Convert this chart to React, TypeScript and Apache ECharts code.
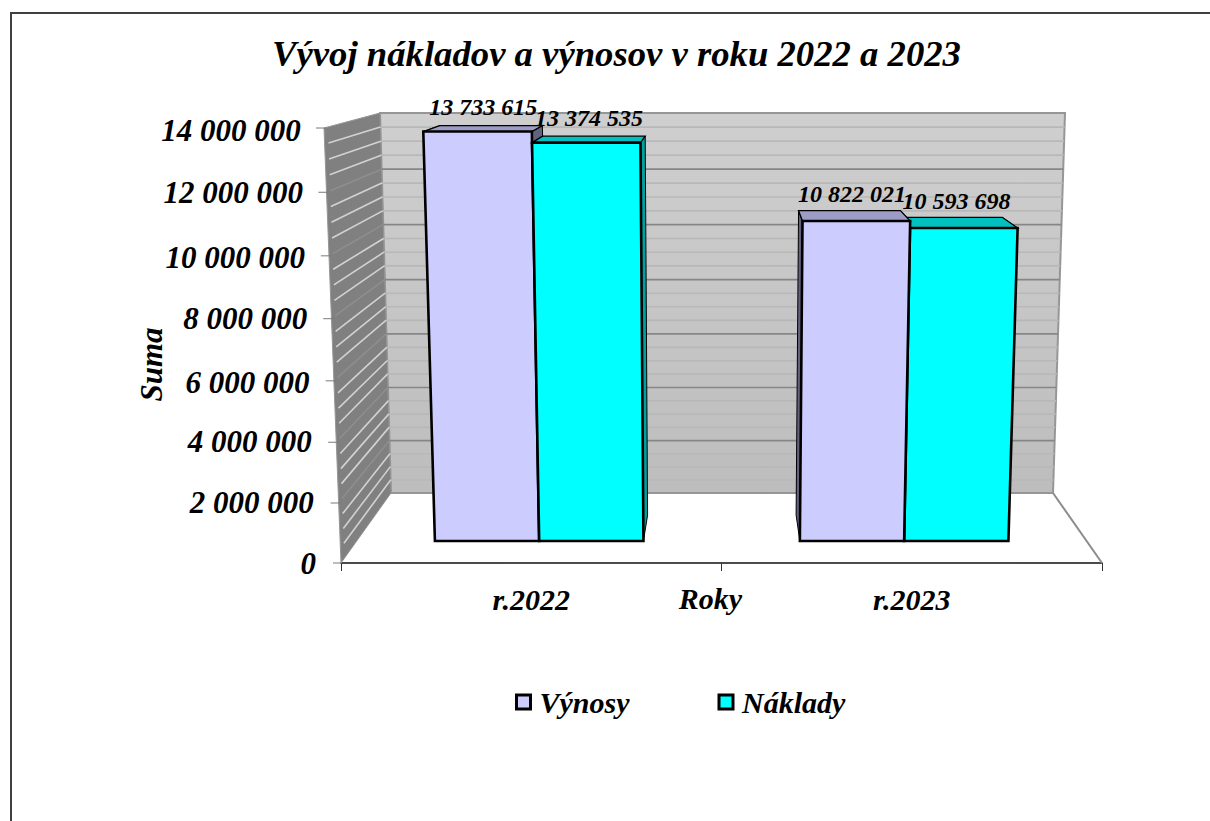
import React, { useEffect, useRef } from "react";
import * as echarts from "echarts";

const categories = ["r.2022", "r.2023"];
const vynosy = [13733615, 10822021];
const naklady = [13374535, 10593698];
const yTicks = [0, 2000000, 4000000, 6000000, 8000000, 10000000, 12000000, 14000000];
const yTickLabels = ["0", "2 000 000", "4 000 000", "6 000 000", "8 000 000", "10 000 000", "12 000 000", "14 000 000"];
const barLabels = [["13 733 615", "10 822 021"], ["13 374 535", "10 593 698"]];
const minorPerMajor = 4;

const FONT = '"Liberation Serif"';
const Y_MAX = 14000000;
// plane geometry of the 3D box: front plane is the ECharts grid; the back wall is a smaller plane behind it
const G = { left: 341, right: 1102, top: 128, bottom: 563 };
const BOX = { frontTopL: 324, frontTopR: 1119, backL: 391, backR: 1053, backTopL: 380, backTopR: 1065, backBottom: 493, backTop: 113 };
const CURVE = 0.04;
const lerp = (a: number, b: number, f: number) => a + (b - a) * f;
const bend = (t: number) => t - CURVE * t * (1 - t);
const project = (u: number, t: number, d: number): number[] => {
  const tb = bend(t);
  const l = lerp(lerp(G.left, BOX.frontTopL, t), lerp(BOX.backL, BOX.backTopL, t), d);
  const r = lerp(lerp(G.right, BOX.frontTopR, t), lerp(BOX.backR, BOX.backTopR, t), d);
  const y = lerp(lerp(G.bottom, G.top, tb), lerp(BOX.backBottom, BOX.backTop, tb), d);
  return [lerp(l, r, u), y];
};
const BAR_D0 = 0.314;
const BAR_D1 = 0.686;
const BAR_RATIO = 2 / 7;
const LABEL_NUDGE = [0, 0, -1, 2, 0, 2, 0, 2];

const COLORS = [
  { front: "#ccccff", top: "#9c9cc6", side: "#62627f" },
  { front: "#00ffff", top: "#00c0c0", side: "#00a0a0" },
];

const boxRender = (seriesIdx: number) => (params: any, api: any) => {
  const cat = api.value(0);
  const val = api.value(1);
  const center = api.coord([cat, 0])[0];
  const band = api.size([1, 0])[0];
  const topPx = api.coord([cat, val])[1];
  const w = band * BAR_RATIO;
  const x0 = seriesIdx === 0 ? center - w : center;
  const x1 = x0 + w;
  const u0 = (x0 - G.left) / (G.right - G.left);
  const u1 = (x1 - G.left) / (G.right - G.left);
  const t = (G.bottom - topPx) / (G.bottom - G.top);
  const c = COLORS[seriesIdx];
  const base = (cat === 0 ? seriesIdx === 0 : seriesIdx === 1) ? 10 : 20;
  const poly = (pts: number[][], fill: string, lw: number, z2: number) => ({
    type: "polygon",
    silent: true,
    z2,
    shape: { points: pts },
    style: { fill, stroke: "#000", lineWidth: lw, lineJoin: "miter" },
  });
  const labelPos = project((u0 + u1) / 2, t, 0.5);
  return {
    type: "group",
    children: [
      poly([project(u1, 0, BAR_D0), project(u1, t, BAR_D0), project(u1, t, BAR_D1), project(u1, 0, BAR_D1)], c.side, 1, base),
      poly([project(u0, 0, BAR_D0), project(u0, t, BAR_D0), project(u0, t, BAR_D1), project(u0, 0, BAR_D1)], c.side, 1, base),
      poly([project(u0, t, BAR_D0), project(u1, t, BAR_D0), project(u1, t, BAR_D1), project(u0, t, BAR_D1)], c.top, 1.3, base + 1),
      poly([project(u0, 0, BAR_D0), project(u1, 0, BAR_D0), project(u1, t, BAR_D0), project(u0, t, BAR_D0)], c.front, 2.6, base + 2),
      {
        type: "text",
        silent: true,
        z2: 40,
        x: labelPos[0] - 1,
        y: labelPos[1] - 21.5,
        style: {
          text: barLabels[seriesIdx][cat],
          font: `italic bold 24px ${FONT}`,
          fill: "#000",
          align: "center",
          verticalAlign: "middle",
        },
      },
    ],
  };
};

const wallRender = (params: any, api: any) => {
  const val = api.value(0);
  const t = val / Y_MAX;
  const isMajor = params.dataIndex % minorPerMajor === 0;
  const children: any[] = [];
  if (params.dataIndex === 0) {
    children.push({
      type: "polygon",
      silent: true,
      z2: 0,
      shape: { points: [project(0, 0, 1), project(1, 0, 1), project(1, 1, 1), project(0, 1, 1)] },
      style: {
        fill: new echarts.graphic.LinearGradient(0, 0, 0, 1, [
          { offset: 0, color: "#cfcfcf" },
          { offset: 1, color: "#bdbdbd" },
        ]),
        stroke: "#969696",
        lineWidth: 2,
      },
    });
    children.push({
      type: "polygon",
      silent: true,
      z2: 0,
      shape: { points: [project(0, 0, 0), project(0, 1, 0), project(0, 1, 1), project(0, 0, 1)] },
      style: { fill: "#808080", stroke: "#969696", lineWidth: 1 },
    });
    children.push({
      type: "line",
      silent: true,
      z2: 1,
      shape: { x1: project(1, 0, 1)[0], y1: project(1, 0, 1)[1], x2: project(1, 0, 0)[0], y2: project(1, 0, 0)[1] },
      style: { stroke: "#8c8c8c", lineWidth: 2 },
    });
  }
  const line = (a: number[], b: number[], stroke: string, lw: number, z2: number) => ({
    type: "line",
    silent: true,
    z2,
    shape: { x1: a[0], y1: a[1], x2: b[0], y2: b[1] },
    style: { stroke, lineWidth: lw },
  });
  if (val > 0 && val < Y_MAX) {
    children.push(line(project(0, t, 1), project(1, t, 1), isMajor ? "#868686" : "#b8b8b8", 1.6, 2));
    children.push(line(project(0, t, 0.07), project(0, t, 1), isMajor ? "#8e8e8e" : "#d2d2d2", 1.6, 2));
  }
  if (isMajor) {
    const p = project(0, t, 0);
    children.push(line([p[0] - 8, p[1]], [p[0] + (val > 0 ? 3 : 0), p[1]], "#7a7a7a", 1, 3));
  }
  return { type: "group", children };
};

const gridValues: number[] = [];
for (let i = 0; i <= (yTicks.length - 1) * minorPerMajor; i++) gridValues.push((i * yTicks[1]) / minorPerMajor);

const tickRich: Record<string, any> = {};
yTicks.forEach((v, i) => {
  const t = v / Y_MAX;
  const p = project(0, t, 0);
  const dy = p[1] - lerp(G.bottom, G.top, t) + LABEL_NUDGE[i];
  tickRich["t" + i] = {
    fontFamily: FONT,
    fontStyle: "italic",
    fontWeight: "bold",
    fontSize: 31,
    color: "#000",
    padding: [Math.max(0, dy * 2), (G.left - p[0]) * 0.9, Math.max(0, -dy * 2), 0],
  };
});

export default function App() {
  const ref = useRef<HTMLDivElement>(null);
  useEffect(() => {
    document.body.style.margin = "0";
    const chart = echarts.init(ref.current!, null, { renderer: "svg" });
    const axisText = { fontFamily: FONT, fontStyle: "italic" as const, fontWeight: "bold" as const, fontSize: 30, color: "#000" };
    chart.setOption({
      animation: false,
      backgroundColor: "#fff",
      title: {
        text: "Vývoj nákladov a výnosov v roku 2022 a 2023",
        left: 611.5,
        top: 30,
        textAlign: "center",
        textStyle: { fontFamily: FONT, fontStyle: "italic", fontWeight: "bold", fontSize: 36.7, color: "#000" },
      },
      graphic: [
        {
          type: "rect",
          left: 10,
          top: 12,
          silent: true,
          z: -1,
          shape: { width: 1400, height: 1000 },
          style: { fill: "transparent", stroke: "#404040", lineWidth: 2 },
        },
      ],
      grid: { left: G.left, right: 1210 - G.right, top: G.top, bottom: 821 - G.bottom },
      xAxis: {
        type: "category",
        data: categories,
        name: "Roky",
        nameLocation: "middle",
        nameGap: 20,
        nameMoveOverlap: false,
        nameTextStyle: { ...axisText, padding: [0, 22, 0, 0] },
        axisLine: { lineStyle: { color: "#111", width: 1.5 } },
        axisTick: { show: true, length: 8, lineStyle: { color: "#333", width: 1 } },
        axisLabel: { ...axisText, margin: 21 },
      },
      yAxis: {
        type: "value",
        min: 0,
        max: Y_MAX,
        interval: yTicks[1],
        name: "Suma",
        nameLocation: "middle",
        nameRotate: 90,
        nameGap: 174,
        nameMoveOverlap: false,
        nameTextStyle: { ...axisText, fontSize: 31, padding: [0, 38, 0, 0] },
        axisLine: { show: false },
        axisTick: { show: false },
        splitLine: { show: false },
        axisLabel: {
          margin: 25,
          formatter: (v: number) => {
            const i = yTicks.indexOf(v);
            return `{t${i}|${yTickLabels[i]}}`;
          },
          rich: tickRich,
        },
      },
      legend: {
        data: ["Výnosy", "Náklady"],
        left: 510,
        top: 682,
        icon: "rect",
        itemWidth: 14,
        itemHeight: 14,
        itemGap: 88,
        itemStyle: { borderColor: "#000", borderWidth: 3 },
        textStyle: { ...axisText, fontSize: 30, padding: [0, 0, 0, 4] },
      },
      series: [
        {
          type: "custom",
          name: "walls",
          coordinateSystem: "cartesian2d",
          data: gridValues.map((v) => [v]),
          encode: { y: 0 },
          renderItem: wallRender,
          z: 1,
          silent: true,
        },
        {
          type: "custom",
          name: "Výnosy",
          coordinateSystem: "cartesian2d",
          data: vynosy.map((v, i) => [i, v]),
          encode: { x: 0, y: 1 },
          renderItem: boxRender(0),
          itemStyle: { color: COLORS[0].front },
          z: 3,
        },
        {
          type: "custom",
          name: "Náklady",
          coordinateSystem: "cartesian2d",
          data: naklady.map((v, i) => [i, v]),
          encode: { x: 0, y: 1 },
          renderItem: boxRender(1),
          itemStyle: { color: COLORS[1].front },
          z: 3,
        },
      ],
    });
    return () => chart.dispose();
  }, []);
  return <div ref={ref} style={{ position: "fixed", left: 0, top: 0, width: 1210, height: 821 }} />;
}
